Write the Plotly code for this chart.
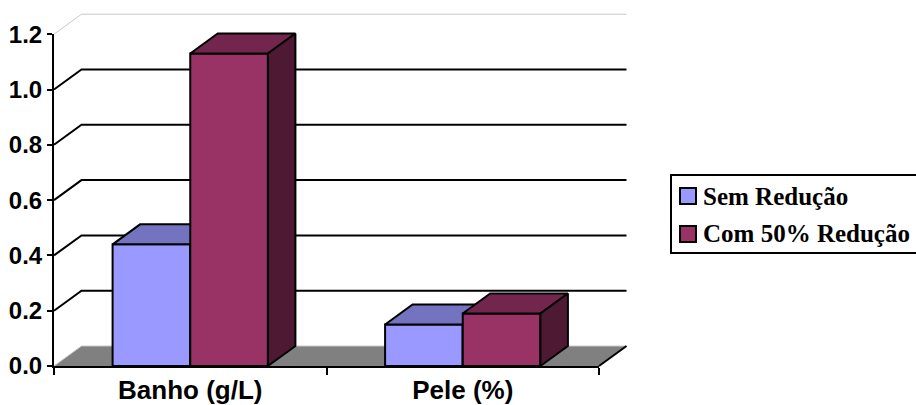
import plotly.graph_objects as go

# ---------------- data ----------------
categories = ["Banho (g/L)", "Pele (%)"]
series_names = ["Sem Redução", "Com 50% Redução"]
sem_reducao = [0.44, 0.15]
com_50_reducao = [1.13, 0.19]
y_tick_values = [0.0, 0.2, 0.4, 0.6, 0.8, 1.0, 1.2]
y_tick_labels = ["0.0", "0.2", "0.4", "0.6", "0.8", "1.0", "1.2"]

# ---------------- styling / projection ----------------
W, H = 916, 405
PX_PER_X = 272.5          # pixels per category unit
PX_PER_Y = 276.5          # pixels per value unit
X0_PX = 54                # pixel of category-axis start (front plane)
Y0_PX = 366               # pixel of value 0 (front plane)
DX = 27.5 / PX_PER_X      # depth offset (x units)
DY = 20.0 / PX_PER_Y      # depth offset (y units)
BAR_W = 0.285
N = len(categories)
Y_MAX = y_tick_values[-1]

colors = [
    dict(front="#9999FF", top="#7373BF", side="#4D4D80"),
    dict(front="#993366", top="#73264D", side="#4D1933"),
]
LIGHT = "#C8C8C8"
FLOOR = "#808080"
AX_FONT = "Liberation Sans, Arial, sans-serif"
LEG_FONT = "Liberation Serif, Times New Roman, serif"

def pxx(px):
    return px / W

def pyy(py):
    return (H - py) / H

fig = go.Figure()

def poly(xs, ys, fill, lw=2, lc="black"):
    fig.add_trace(go.Scatter(
        x=list(xs) + [xs[0]], y=list(ys) + [ys[0]], mode="lines",
        fill="toself", fillcolor=fill, line=dict(color=lc, width=lw),
        hoverinfo="skip", showlegend=False, xaxis="x", yaxis="y"))

def seg(xs, ys, color, width):
    fig.add_trace(go.Scatter(
        x=xs, y=ys, mode="lines", line=dict(color=color, width=width),
        hoverinfo="skip", showlegend=False, xaxis="x", yaxis="y"))

# back wall + side wall gridlines
for v in y_tick_values:
    if v == y_tick_values[0]:
        continue
    col = LIGHT if v == Y_MAX else "black"
    w = 1 if v == Y_MAX else 2
    seg([0, DX, N + DX], [v, v + DY, v + DY], col, w)

# floor
poly([0, N, N + DX, DX], [0, 0, DY, DY], FLOOR, lw=0, lc=FLOOR)
seg([0, DX, N + DX], [0, DY, DY], LIGHT, 1)
seg([N, N + DX], [0, DY], "black", 2)

# bars
series_values = [sem_reducao, com_50_reducao]
for i in range(N):
    c = i + 0.5
    for s, vals in enumerate(series_values):
        v = vals[i]
        x0 = c - BAR_W + s * BAR_W
        x1 = x0 + BAR_W
        col = colors[s]
        poly([x0, x1, x1, x0], [0, 0, v, v], col["front"])
        poly([x0, x1, x1 + DX, x0 + DX], [v, v, v + DY, v + DY], col["top"])
        poly([x1, x1 + DX, x1 + DX, x1], [0, DY, v + DY, v], col["side"])

# dummy trace for the visible axes subplot
fig.add_trace(go.Scatter(x=[None], y=[None], xaxis="x2", yaxis="y2",
                         showlegend=False, hoverinfo="skip"))

# ---------------- layout ----------------
main_l, main_r, main_t, main_b = 40, 660, 4, 392
front_top_px = Y0_PX - Y_MAX * PX_PER_Y

fig.update_layout(
    width=W, height=H,
    margin=dict(l=0, r=0, t=0, b=0, pad=0, autoexpand=False),
    paper_bgcolor="white",
    plot_bgcolor="rgba(0,0,0,0)",
    showlegend=False,
    xaxis=dict(domain=[pxx(main_l), pxx(main_r)],
               range=[(main_l - X0_PX) / PX_PER_X, (main_r - X0_PX) / PX_PER_X],
               visible=False, anchor="y", automargin=False),
    yaxis=dict(domain=[pyy(main_b), pyy(main_t)],
               range=[(Y0_PX - main_b) / PX_PER_Y, (Y0_PX - main_t) / PX_PER_Y],
               visible=False, anchor="x", automargin=False),
    xaxis2=dict(domain=[pxx(X0_PX), pxx(X0_PX + N * PX_PER_X)],
                range=[0, N], anchor="y2", automargin=False,
                tickmode="array",
                tickvals=[i + 0.5 for i in range(N)], ticktext=categories,
                ticks="",
                minor=dict(tickmode="array", tickvals=list(range(N + 1)),
                           ticks="outside", ticklen=7, tickwidth=2,
                           tickcolor="black", showgrid=False),
                showline=True, linecolor="black", linewidth=2,
                showgrid=False, zeroline=False,
                tickfont=dict(family=AX_FONT, size=26, color="black", weight="bold")),
    yaxis2=dict(domain=[pyy(Y0_PX), pyy(front_top_px)],
                range=[0, Y_MAX], anchor="x2", automargin=False,
                tickmode="array", tickvals=y_tick_values, ticktext=y_tick_labels,
                ticks="outside", ticklen=5, tickwidth=2, tickcolor="black",
                showline=True, linecolor="black", linewidth=2,
                showgrid=False, zeroline=False,
                tickfont=dict(family=AX_FONT, size=24, color="black", weight="bold")),
)

# ---------------- legend (drawn) ----------------
shapes = [dict(type="rect", xref="paper", yref="paper",
               x0=pxx(671), x1=pxx(940), y0=pyy(253), y1=pyy(175),
               line=dict(color="black", width=2), fillcolor="white", layer="above")]
annotations = []
rows = [196, 234]
for s, name in enumerate(series_names):
    cy = rows[s]
    shapes.append(dict(type="rect", xref="paper", yref="paper",
                       x0=pxx(680), x1=pxx(696), y0=pyy(cy + 8), y1=pyy(cy - 8),
                       line=dict(color="black", width=2),
                       fillcolor=colors[s]["front"], layer="above"))
    annotations.append(dict(xref="paper", yref="paper", x=pxx(701), y=pyy(cy),
                            xanchor="left", yanchor="middle", showarrow=False,
                            text="<b>" + name + "</b>",
                            font=dict(family=LEG_FONT, size=25, color="black")))
fig.update_layout(shapes=shapes, annotations=annotations)

fig.write_html("out.html")
